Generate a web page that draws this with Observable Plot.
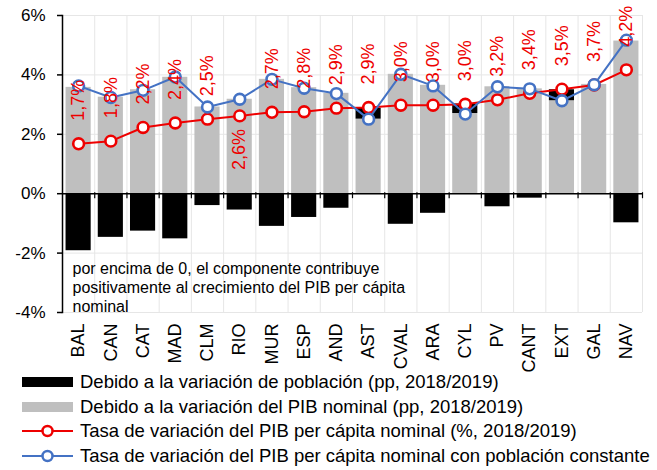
<!DOCTYPE html>
<html>
<head>
<meta charset="utf-8">
<script src="https://cdn.jsdelivr.net/npm/d3@7"></script>
<script src="https://cdn.jsdelivr.net/npm/@observablehq/plot@0.6"></script>
<style>
  body { margin: 0; background: #fff; font-family: "Liberation Sans", Arial, sans-serif; }
  #chart svg { display: block; overflow: visible; }
  .legend { margin-top: 0; }
  .legend .row { display: flex; align-items: center; height: 24.6px; white-space: nowrap; overflow: hidden; width: 657px; font-size: 18.5px; color: #000; }
  .legend svg { margin-left: 22px; margin-right: 7px; flex: none; }
</style>
</head>
<body>
<div id="chart"></div>
<div class="legend" id="legend"></div>
<script>
// ---- data ----
const categories = ["BAL","CAN","CAT","MAD","CLM","RIO","MUR","ESP","AND","AST","CVAL","ARA","CYL","PV","CANT","EXT","GAL","NAV"];
// contribution of nominal GDP variation (pp)
const pibNominal = [3.58, 3.25, 3.50, 3.92, 2.92, 3.18, 3.85, 3.57, 3.38, 2.51, 4.02, 3.65, 2.70, 3.60, 3.53, 3.13, 3.68, 5.14];
// contribution of population variation (pp)
const poblacion = [-1.92, -1.47, -1.26, -1.52, -0.40, -0.55, -1.10, -0.80, -0.49, 0.37, -1.03, -0.66, 0.32, -0.44, -0.15, 0.37, -0.02, -0.98];
// per capita nominal GDP growth (%)
const tasaPerCapita = [1.68, 1.77, 2.23, 2.38, 2.51, 2.62, 2.74, 2.76, 2.88, 2.90, 2.98, 2.98, 3.01, 3.16, 3.38, 3.52, 3.66, 4.17];
// per capita nominal GDP growth with constant population (%)
const tasaPobConstante = [3.63, 3.24, 3.48, 3.93, 2.92, 3.18, 3.85, 3.55, 3.37, 2.51, 4.02, 3.63, 2.68, 3.60, 3.53, 3.13, 3.67, 5.17];
const redLabels = ["1,7%","1,8%","2,2%","2,4%","2,5%","2,6%","2,7%","2,8%","2,9%","2,9%","3,0%","3,0%","3,0%","3,2%","3,4%","3,5%","3,7%","4,2%"];
const labelsBelow = ["RIO"];
const yTicks = [-4, -2, 0, 2, 4, 6];
const seriesNames = [
  "Debido a la variación de población (pp, 2018/2019)",
  "Debido a la variación del PIB nominal (pp, 2018/2019)",
  "Tasa de variación del PIB per cápita nominal (%, 2018/2019)",
  "Tasa de variación del PIB per cápita nominal con población constante"
];
const annotation = "por encima de 0, el componente contribuye\npositivamente al crecimiento del PIB per cápita\nnominal";

// ---- styles ----
const C_BLACK = "#000000", C_GRAY = "#bfbfbf", C_RED = "#ee0000", C_BLUE = "#4472c4", C_GRID = "#e6e6e6";
const W = 657, H = 370, ML = 62, MR = 15, MT = 15, MB = 58;
const step = (W - ML - MR) / categories.length;

// ---- derived tables ----
const bars = [
  ...categories.map((c, i) => ({cat: c, value: pibNominal[i], color: C_GRAY})),
  ...categories.map((c, i) => ({cat: c, value: poblacion[i], color: C_BLACK}))
];
const pts = categories.map((c, i) => ({cat: c, red: tasaPerCapita[i], blue: tasaPobConstante[i], label: redLabels[i]}));

const chart = Plot.plot({
  width: W, height: H,
  marginTop: MT, marginBottom: MB, marginLeft: ML, marginRight: MR,
  style: {fontFamily: '"Liberation Sans", Arial, sans-serif', color: "#000", background: "#fff", overflow: "visible"},
  x: {domain: categories, paddingInner: 0.22, paddingOuter: 0.11, round: false, label: null},
  y: {domain: [-4, 6], label: null},
  marks: [
    Plot.gridY(yTicks, {stroke: C_GRID, strokeOpacity: 1}),
    Plot.ruleX(categories, {x: d => d, dx: step / 2, stroke: C_GRID}),
    Plot.barY(bars, {x: "cat", y: "value", fill: "color", z: "color"}),
    Plot.ruleY([0], {stroke: "#000", strokeWidth: 1.5}),
    Plot.ruleX(categories, {x: d => d, dx: step / 2, y1: 0, y2: 0, insetTop: -1, insetBottom: -5, stroke: "#000", strokeWidth: 1.2}),
    Plot.frame({anchor: "left", stroke: "#000", strokeWidth: 1.5}),
    Plot.axisY({ticks: yTicks, tickFormat: d => d + "%", tickSize: 5, tickPadding: 12, fontSize: 17, stroke: "#000", strokeWidth: 1.5}),
    Plot.axisX({tickRotate: -90, tickSize: 0, tickPadding: 11, fontSize: 18, anchor: "bottom"}),
    Plot.line(pts, {x: "cat", y: "red", stroke: C_RED, strokeWidth: 2}),
    Plot.dot(pts, {x: "cat", y: "red", r: 5.4, fill: "#fff", stroke: C_RED, strokeWidth: 2.6}),
    Plot.line(pts, {x: "cat", y: "blue", stroke: C_BLUE, strokeWidth: 2}),
    Plot.dot(pts, {x: "cat", y: "blue", r: 5.4, fill: "#fff", stroke: C_BLUE, strokeWidth: 2.6}),
    Plot.text(pts.filter(d => !labelsBelow.includes(d.cat)), {x: "cat", y: "red", text: "label", rotate: -90, textAnchor: "start", dy: -23, fill: C_RED, fontSize: 18}),
    Plot.text(pts.filter(d => labelsBelow.includes(d.cat)), {x: "cat", y: "red", text: "label", rotate: -90, textAnchor: "end", dy: 13, fill: C_RED, fontSize: 18}),
    Plot.text([annotation], {frameAnchor: "bottom-left", text: d => d, textAnchor: "start", lineAnchor: "bottom", dx: 10, dy: -1, fontSize: 16, lineHeight: 1.17, fill: "#000"})
  ]
});
document.getElementById("chart").appendChild(chart);

// ---- legend ----
const legend = document.getElementById("legend");
const swatches = [
  `<svg width="51" height="12"><rect x="0" y="1" width="51" height="10" fill="${C_BLACK}"/></svg>`,
  `<svg width="51" height="12"><rect x="0" y="1" width="51" height="10" fill="${C_GRAY}"/></svg>`,
  `<svg width="51" height="14"><line x1="0" x2="51" y1="7" y2="7" stroke="${C_RED}" stroke-width="2"/><circle cx="25.5" cy="7" r="5" fill="#fff" stroke="${C_RED}" stroke-width="2.5"/></svg>`,
  `<svg width="51" height="14"><line x1="0" x2="51" y1="7" y2="7" stroke="${C_BLUE}" stroke-width="2"/><circle cx="25.5" cy="7" r="5" fill="#fff" stroke="${C_BLUE}" stroke-width="2.5"/></svg>`
];
seriesNames.forEach((name, i) => {
  const row = document.createElement("div");
  row.className = "row";
  row.innerHTML = swatches[i];
  const span = document.createElement("span");
  span.textContent = name;
  row.appendChild(span);
  legend.appendChild(row);
});
</script>
</body>
</html>
